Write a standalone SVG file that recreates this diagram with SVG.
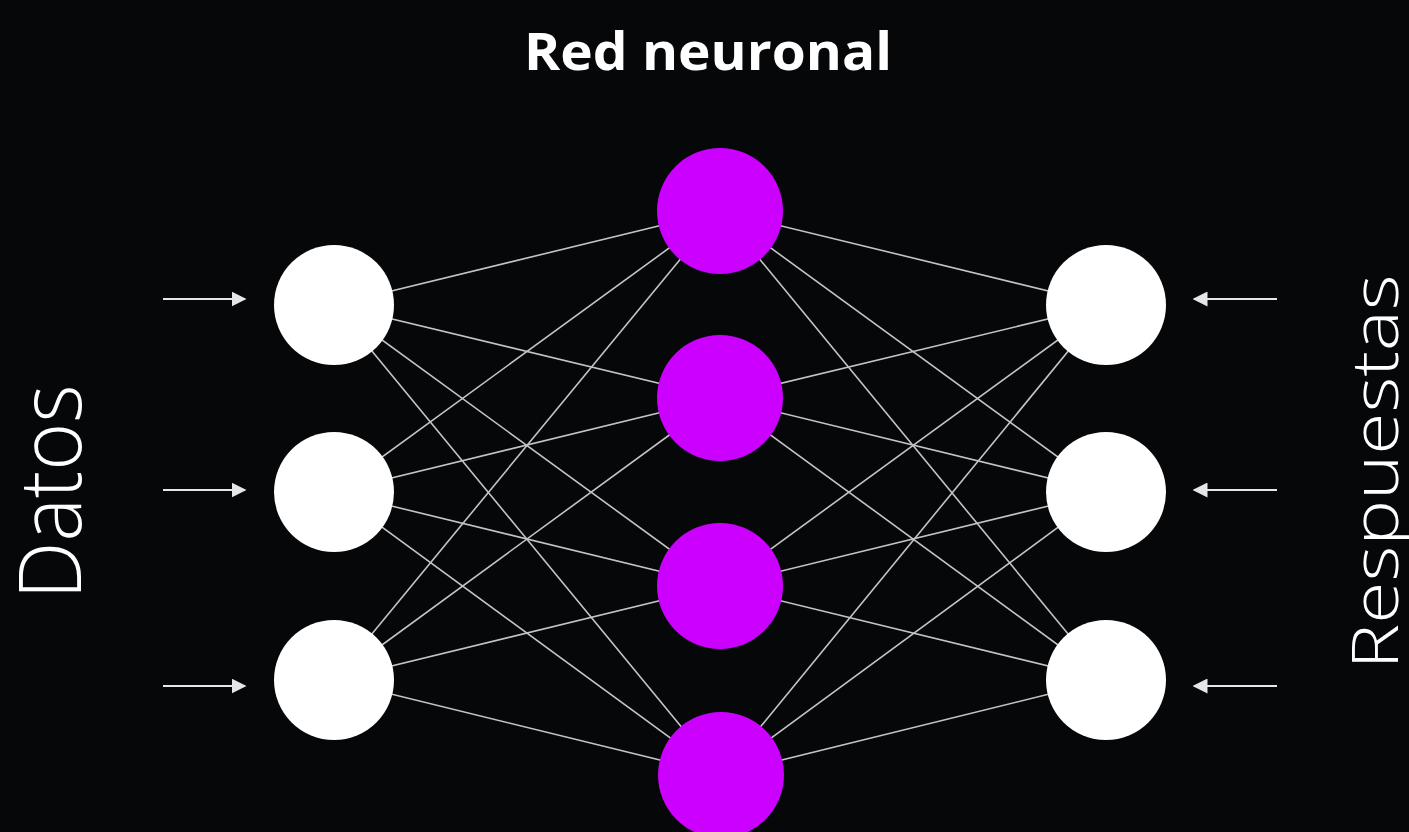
<svg xmlns="http://www.w3.org/2000/svg" width="1409" height="832" viewBox="0 0 1409 832">
<defs>
<style>
.bg{fill:#060709}
.in{fill:#ffffff}
.hid{fill:#cc00ff}
.edge{stroke:#c4c4c4;stroke-width:1.6;fill:none}
.arr{stroke:#e6e6e6;stroke-width:2;fill:none}
.title{font-family:"Open Sans","Noto Sans",sans-serif;font-weight:700;font-size:52px;fill:#ffffff}
.side{font-family:"Open Sans","Noto Sans",sans-serif;font-weight:300;fill:#ffffff}
</style>
<marker id="ah" viewBox="0 0 10 10" refX="9" refY="5" markerWidth="7.5" markerHeight="7.5" markerUnits="strokeWidth" orient="auto">
<path d="M0,0 L10,5 L0,10 z" fill="#e6e6e6"/>
</marker>
</defs>
<rect class="bg" x="0" y="0" width="1409" height="832"/>
<text class="title" x="708" y="70" text-anchor="middle" textLength="368" lengthAdjust="spacingAndGlyphs">Red neuronal</text>
<text class="side" font-size="86" transform="translate(81,492) rotate(-90)" text-anchor="middle" textLength="215" lengthAdjust="spacingAndGlyphs">Datos</text>
<text class="side" font-size="64" transform="translate(1398,472) rotate(-90)" text-anchor="middle" textLength="395" lengthAdjust="spacingAndGlyphs">Respuestas</text>
<g id="connectors">
<path class="edge" d="M334,305L720,211M334,305L720,398M334,305L720,586M334,305L721,775"/>
<path class="edge" d="M334,492L720,211M334,492L720,398M334,492L720,586M334,492L721,775"/>
<path class="edge" d="M334,680L720,211M334,680L720,398M334,680L720,586M334,680L721,775"/>
<path class="edge" d="M1106,305L720,211M1106,305L720,398M1106,305L720,586M1106,305L721,775"/>
<path class="edge" d="M1106,492L720,211M1106,492L720,398M1106,492L720,586M1106,492L721,775"/>
<path class="edge" d="M1106,680L720,211M1106,680L720,398M1106,680L720,586M1106,680L721,775"/>
<path class="arr" marker-end="url(#ah)" d="M163,299L245,299"/>
<path class="arr" marker-end="url(#ah)" d="M163,490L245,490"/>
<path class="arr" marker-end="url(#ah)" d="M163,686L245,686"/>
<path class="arr" marker-end="url(#ah)" d="M1277,299L1194,299"/>
<path class="arr" marker-end="url(#ah)" d="M1277,490L1194,490"/>
<path class="arr" marker-end="url(#ah)" d="M1277,686L1194,686"/>
</g>
<g id="in1"><circle class="in" cx="334" cy="305" r="60"/></g>
<g id="in2"><circle class="in" cx="334" cy="492" r="60"/></g>
<g id="in3"><circle class="in" cx="334" cy="680" r="60"/></g>
<g id="h1"><circle class="hid" cx="720" cy="211" r="63"/></g>
<g id="h2"><circle class="hid" cx="720" cy="398" r="63"/></g>
<g id="h3"><circle class="hid" cx="720" cy="586" r="63"/></g>
<g id="h4"><circle class="hid" cx="721" cy="775" r="63"/></g>
<g id="out1"><circle class="in" cx="1106" cy="305" r="60"/></g>
<g id="out2"><circle class="in" cx="1106" cy="492" r="60"/></g>
<g id="out3"><circle class="in" cx="1106" cy="680" r="60"/></g>
</svg>
